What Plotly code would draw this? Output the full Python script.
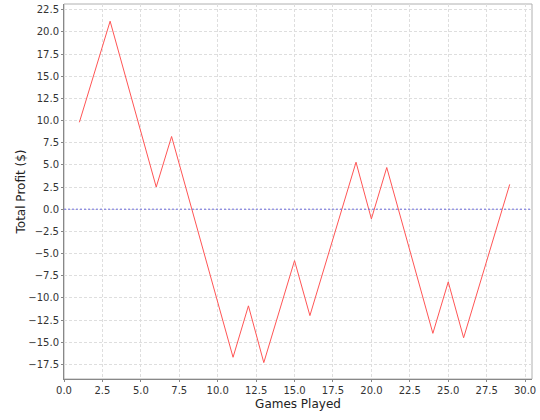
import plotly.graph_objects as go

games = [1, 3, 6, 7, 11, 12, 13, 15, 16, 19, 20, 21, 24, 25, 26, 29]
profit = [9.8, 21.2, 2.5, 8.2, -16.7, -10.9, -17.3, -5.8, -12.0, 5.3, -1.1, 4.7, -14.0, -8.2, -14.5, 2.8]

x_ticks = [0.0, 2.5, 5.0, 7.5, 10.0, 12.5, 15.0, 17.5, 20.0, 22.5, 25.0, 27.5, 30.0]
y_ticks = [-17.5, -15.0, -12.5, -10.0, -7.5, -5.0, -2.5, 0.0, 2.5, 5.0, 7.5, 10.0, 12.5, 15.0, 17.5, 20.0, 22.5]

fig = go.Figure()
fig.add_trace(go.Scatter(x=games, y=profit, mode="lines",
                         line=dict(color="#ff5555", width=1), hoverinfo="skip"))
fig.add_hline(y=0, line=dict(color="#6c6cdc", width=1, dash="2px,2px"))

font = "DejaVu Sans, sans-serif"
fig.update_layout(
    width=540, height=420,
    margin=dict(l=64, r=8, t=4, b=41),
    paper_bgcolor="white", plot_bgcolor="white",
    showlegend=False,
    font=dict(family=font, size=10, color="#333333"),
    xaxis=dict(range=[0, 30.45], tickvals=x_ticks, ticktext=[f"{v:.1f}" for v in x_ticks],
               automargin=False,
               showgrid=True, gridcolor="#dedede", griddash="3px,2px", gridwidth=1,
               zeroline=False, showline=True, linecolor="#888888", mirror=False,
               ticks="outside", ticklen=2, tickcolor="#888888",
               title=dict(text="Games Played", font=dict(size=12, color="#222222"), standoff=4)),
    yaxis=dict(range=[-19.15, 23.14], tickvals=y_ticks, ticktext=[f"{v:.1f}".replace("-", "\u2212") for v in y_ticks],
               automargin=False,
               showgrid=True, gridcolor="#dedede", griddash="3px,2px", gridwidth=1,
               zeroline=False, showline=True, linecolor="#888888",
               ticks="outside", ticklen=2, tickcolor="#888888",
               title=dict(text="Total Profit ($)", font=dict(size=12, color="#222222"), standoff=0)),
)
fig.add_shape(type="rect", xref="paper", yref="paper", x0=0, y0=0, x1=1, y1=1,
              line=dict(color="#b0b0b0", width=1), layer="below")
fig.write_html("out.html", config={"displayModeBar": False},
               post_script="document.body.style.margin='0';document.body.style.overflow='hidden';")
